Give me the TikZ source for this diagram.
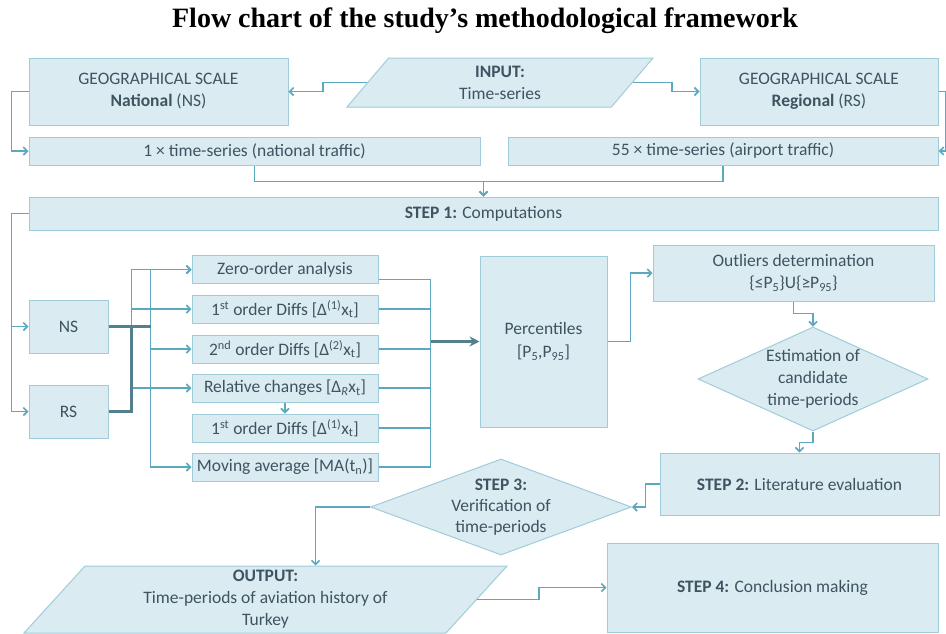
\documentclass[tikz,border=0pt]{standalone}
\usepackage{fontspec}
\setmainfont{Carlito}
\newfontfamily\titlefont{Liberation Serif}
\usetikzlibrary{shapes.geometric,arrows.meta,calc}

\definecolor{boxfill}{RGB}{218,235,242}
\definecolor{boxline}{RGB}{160,204,218}
\definecolor{flowcol}{RGB}{92,168,190}
\definecolor{buscol}{RGB}{84,128,142}
\definecolor{txtcol}{RGB}{62,84,96}

\tikzset{
  box/.style={draw=boxline, fill=boxfill, line width=1pt, text=txtcol, align=center, inner sep=0pt},
  io/.style={box, trapezium, trapezium stretches body},
  dec/.style={box, diamond},
  line/.style={draw=flowcol, line width=1.6pt},
  flow/.style={line, -{Straight Barb[length=4pt,width=8pt]}},
  bus/.style={draw=buscol, line width=2.8pt},
  busarrow/.style={bus, -{Stealth[length=10pt,width=10pt]}},
}

\begin{document}
\begin{tikzpicture}[x=1pt,y=1pt,yscale=-1,font=\fontsize{17.5}{22}\selectfont]
\useasboundingbox (0,0) rectangle (946,633);

% title
\node[font=\titlefont\bfseries\fontsize{28}{32}\selectfont] (title) at (485,21) {Flow chart of the study’s methodological framework};

% input, scales, time-series
\node[io, trapezium left angle=38.8, trapezium right angle=141.2, minimum width=306, minimum height=49] (inp) at (500,82.5) {\textbf{INPUT:}\\Time-series};
\node[box, minimum width=259, minimum height=67] (nat) at (158.5,91.5) {GEOGRAPHICAL SCALE\\\textbf{National} (NS)};
\node[box, minimum width=238, minimum height=67] (reg) at (819,91.5) {GEOGRAPHICAL SCALE\\\textbf{Regional} (RS)};
\node[box, minimum width=451, minimum height=28] (ts1) at (254.5,151) {1 × time-series (national traffic)};
\node[box, minimum width=430, minimum height=28] (ts55) at (723,151) {55 × time-series (airport traffic)};

% step 1
\node[box, minimum width=909, minimum height=33] (step1) at (483.5,213.5) {\textbf{STEP 1:} Computations};
\node[box, minimum width=79, minimum height=53] (ns) at (68.5,326.5) {NS};
\node[box, minimum width=79, minimum height=53] (rs) at (68.5,411.5) {RS};

% transformations
\node[box, minimum width=186, minimum height=28] (zero) at (285,269.5) {Zero-order analysis};
\node[box, minimum width=186, minimum height=28] (d1) at (285,309) {1\textsuperscript{st} order Diffs [Δ\textsuperscript{(1)}x\textsubscript{t}]};
\node[box, minimum width=186, minimum height=28] (d2) at (285,349) {2\textsuperscript{nd} order Diffs [Δ\textsuperscript{(2)}x\textsubscript{t}]};
\node[box, minimum width=186, minimum height=28] (rel) at (285,388) {Relative changes [Δ\textsubscript{\textit{R}}x\textsubscript{t}]};
\node[box, minimum width=186, minimum height=28] (rd1) at (285,428) {1\textsuperscript{st} order Diffs [Δ\textsuperscript{(1)}x\textsubscript{t}]};
\node[box, minimum width=186, minimum height=28] (ma) at (285,467) {Moving average [MA(t\textsubscript{n})]};
\coordinate (colr) at ($(ma.east)+(52,0)$);

% percentiles and outliers
\node[box, minimum width=127, minimum height=171] (perc) at (543.5,341.5) {Percentiles\\[1pt]{[P\textsubscript{5},P\textsubscript{95}]}};
\node[box, minimum width=281, minimum height=56] (outl) at (793.5,273) {Outliers determination\\\{≤P\textsubscript{5}\}U\{≥P\textsubscript{95}\}};
\node[dec, minimum width=230, minimum height=104, label={[text=txtcol,align=center]center:{Estimation of\\candidate\\time-periods}}] (est) at (813,379) {};

% steps 2 to 4
\node[box, minimum width=279, minimum height=62] (step2) at (799.5,484) {\textbf{STEP 2:} Literature evaluation};
\node[dec, minimum width=261, minimum height=96, label={[text=txtcol,align=center,font=\fontsize{17.5}{21}\selectfont]center:{\textbf{STEP 3:}\\Verification of\\time-periods}}] (step3) at (501,507) {};
\node[io, trapezium left angle=43.7, trapezium right angle=136.3, minimum width=483, minimum height=67] (outp) at (265.5,599.5) {\textbf{OUTPUT:}\\Time-periods of aviation history of\\Turkey};
\node[box, minimum width=331, minimum height=89] (step4) at (772.5,587.5) {\textbf{STEP 4:} Conclusion making};

% input to scales
\draw[flow] (inp.left side) -- ++(-44,0) |- (nat.east);
\draw[flow] (inp.right side) -- ++(39,0) |- (reg.west);
\draw[flow] (nat.west) -- ++(-17,0) |- (ts1.west);
\draw[flow] (reg.east) -- ++(7,0) |- (ts55.east);
\draw[flow] (ts1.south) -- ++(0,16) -| (step1.north);
\draw[flow] (ts55.south) -- ++(0,16) -| (step1.north);

% step 1 to NS and RS
\draw[flow] (step1.west) -- ++(-17,0) |- (ns.west);
\draw[flow] (step1.west) -- ++(-17,0) |- (rs.west);

% NS and RS to transformations
\draw[flow] ($(ns.east)+(23,0)$) |- (zero.west);
\draw[flow] ($(ns.east)+(23,0)$) |- (d1.west);
\draw[flow] ($(rs.east)+(23,0)$) |- (rel.west);
\draw[flow] ($(ns.east)+(42,0)$) |- (zero.west);
\draw[flow] ($(ns.east)+(42,0)$) |- (d2.west);
\draw[flow] ($(ns.east)+(42,0)$) |- (ma.west);
\draw[bus] (ns.east) -- ++(42,0);
\draw[bus] (rs.east) -| ($(ns.east)+(23,0)$);
\draw[flow] (rel.south) -- (rd1.north);

% transformations to percentiles
\draw[line] ($(zero.east)+(0,10)$) -| (colr) -- (ma.east);
\draw[line] (d1.east) -- (d1.east -| colr);
\draw[line] (d2.east) -- (d2.east -| colr);
\draw[line] (rel.east) -- (rel.east -| colr);
\draw[line] (rd1.east) -- (rd1.east -| colr);
\draw[busarrow] (colr |- perc.west) -- (perc.west);

% percentiles to output
\draw[flow] (perc.east) -- ++(23,0) |- (outl.west);
\draw[flow] (outl.south) -- ++(0,12) -| (est.north);
\draw[flow] (est.south) -- ++(0,11) -| (step2.north);
\draw[flow] (step2.west) -- ++(-14,0) |- (step3.east);
\draw[flow] (step3.west) -| ($(outp.north)+(50,0)$);
\draw[flow] (outp.right side) -- ++(62,0) |- (step4.west);

\end{tikzpicture}
\end{document}
